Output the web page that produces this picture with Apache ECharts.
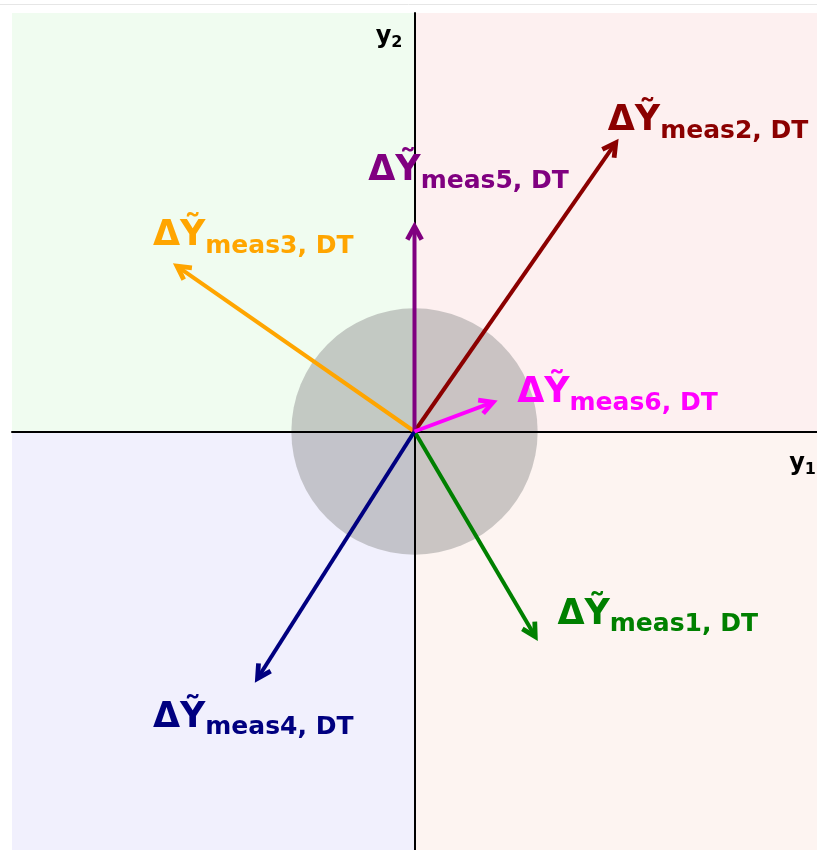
<!DOCTYPE html>
<html>
<head>
<meta charset="utf-8">
<script src="https://cdn.jsdelivr.net/npm/echarts@6/dist/echarts.min.js"></script>
<style>
  html, body { margin: 0; padding: 0; background: #ffffff; }
  #chart { width: 817px; height: 850px; }
</style>
</head>
<body>
<div id="chart"></div>
<script>
// Measurement deviation vectors in the (y1, y2) plane
const names = ['meas1', 'meas2', 'meas3', 'meas4', 'meas5', 'meas6'];
const vecY1 = [0.60, 1.00, -1.18, -0.78, 0.00, 0.39];
const vecY2 = [-0.98, 1.38, 0.79, -1.18, 0.98, 0.14];
const vecColors = ['#008000', '#8b0000', '#ffa500', '#000080', '#800080', '#ff00ff'];

// Where each vector's label starts (left edge, vertical middle)
const labelY1 = [0.71, 0.96, -1.30, -1.30, -0.23, 0.51];
const labelY2 = [-0.86, 1.50, 0.95, -1.35, 1.26, 0.20];

// Tolerance region radius
const tolRadius = 0.6;

// Axis extents
const axMin = -2, axMax = 2;

// Quadrant shading: [y1From, y2From, y1To, y2To]
const quadrants = [[-2, 0, 0, 2], [0, 0, 2, 2], [-2, -2, 0, 0], [0, -2, 2, 0]];
const quadColors = ['#f0fcf0', '#fdf0f0', '#f1f0fd', '#fdf4f1'];

const chart = echarts.init(document.getElementById('chart'));
const FONT = 'DejaVu Sans';

const vecData = names.map((n, i) => [vecY1[i], vecY2[i], i]);

// rich-text styles per vector colour
function labelRich(color) {
  return {
    a: { fontFamily: FONT, fontWeight: 'bold', fontSize: 35, color: color, lineHeight: 42, verticalAlign: 'bottom', opacity: 1 },
    b: { fontFamily: FONT, fontWeight: 'bold', fontSize: 25, color: color, lineHeight: 42, verticalAlign: 'bottom', padding: [0, 0, -5, 0], opacity: 1 }
  };
}

const labelData = names.map((n, i) => ({
  value: [labelY1[i], labelY2[i]], name: n,
  label: { rich: labelRich(vecColors[i]) }
}));

chart.setOption({
  animation: false,
  backgroundColor: '#ffffff',
  grid: { left: 12, right: 0, top: 13, bottom: 0 },
  xAxis: {
    type: 'value', min: axMin, max: axMax,
    axisLine: { onZero: true, lineStyle: { color: '#000', width: 2 } },
    axisTick: { show: false }, axisLabel: { show: false }, splitLine: { show: false },
    z: 3
  },
  yAxis: {
    type: 'value', min: axMin, max: axMax,
    axisLine: { onZero: true, lineStyle: { color: '#000', width: 2 } },
    axisTick: { show: false }, axisLabel: { show: false }, splitLine: { show: false },
    z: 3
  },
  graphic: [{
    type: 'line', shape: { x1: 0, y1: 4.5, x2: 817, y2: 4.5 },
    style: { stroke: '#e6e6e6', lineWidth: 1 }, silent: true
  }],
  series: [
    {
      // quadrant shading
      type: 'custom', z: 0, silent: true,
      data: quadrants.map((q, i) => [q[0], q[1], q[2], q[3], i]),
      renderItem: function (params, api) {
        const p0 = api.coord([api.value(0), api.value(1)]);
        const p1 = api.coord([api.value(2), api.value(3)]);
        return {
          type: 'rect',
          shape: { x: Math.min(p0[0], p1[0]), y: Math.min(p0[1], p1[1]),
                   width: Math.abs(p1[0] - p0[0]), height: Math.abs(p1[1] - p0[1]) },
          style: { fill: quadColors[api.value(4)] }
        };
      }
    },
    {
      // tolerance circle
      type: 'custom', z: 2, silent: true,
      data: [[0, 0, tolRadius]],
      renderItem: function (params, api) {
        const c = api.coord([api.value(0), api.value(1)]);
        const s = api.size([api.value(2), api.value(2)]);
        return {
          type: 'circle',
          shape: { cx: c[0], cy: c[1], r: (s[0] + s[1]) / 2 },
          style: { fill: 'rgba(140,140,140,0.45)' }
        };
      }
    },
    {
      // vectors with open arrow heads
      type: 'custom', z: 5, silent: true,
      data: vecData,
      renderItem: function (params, api) {
        const o = api.coord([0, 0]);
        const t = api.coord([api.value(0), api.value(1)]);
        const col = vecColors[api.value(2)];
        const ang = Math.atan2(t[1] - o[1], t[0] - o[0]);
        const L = 15, a = 0.5;
        const h1 = [t[0] - L * Math.cos(ang - a), t[1] - L * Math.sin(ang - a)];
        const h2 = [t[0] - L * Math.cos(ang + a), t[1] - L * Math.sin(ang + a)];
        return {
          type: 'group',
          children: [
            { type: 'line', shape: { x1: o[0], y1: o[1], x2: t[0] - 2 * Math.cos(ang), y2: t[1] - 2 * Math.sin(ang) },
              style: { stroke: col, lineWidth: 4, lineCap: 'butt' } },
            { type: 'polyline', shape: { points: [h1, t, h2] },
              style: { stroke: col, lineWidth: 4.8, fill: null, lineJoin: 'miter', miterLimit: 10, lineCap: 'butt' } }
          ]
        };
      }
    },
    {
      // vector labels
      type: 'scatter', z: 6, silent: true,
      symbolSize: 0,
      itemStyle: { opacity: 1 },
      data: labelData,
      label: {
        show: true, position: 'right', distance: 0, opacity: 1,
        formatter: function (p) { return '{a|ΔỸ}{b|' + p.name + ', DT}'; }
      }
    },
    {
      // axis titles
      type: 'scatter', z: 6, silent: true, symbolSize: 0,
      itemStyle: { opacity: 1 },
      data: [
        { value: [1.995, -0.14], name: '1' },
        { value: [-0.06, 1.90], name: '2' }
      ],
      label: {
        show: true, position: 'left', distance: 0, opacity: 1,
        formatter: function (p) { return '{y|y}{s|' + p.name + '}'; },
        rich: {
          y: { fontFamily: FONT, fontWeight: 'bold', fontSize: 24, color: '#000', lineHeight: 30, verticalAlign: 'bottom' },
          s: { fontFamily: FONT, fontWeight: 'bold', fontSize: 16, color: '#000', lineHeight: 30, verticalAlign: 'bottom', padding: [0, 0, -2, 0] }
        }
      }
    }
  ]
});
</script>
</body>
</html>
